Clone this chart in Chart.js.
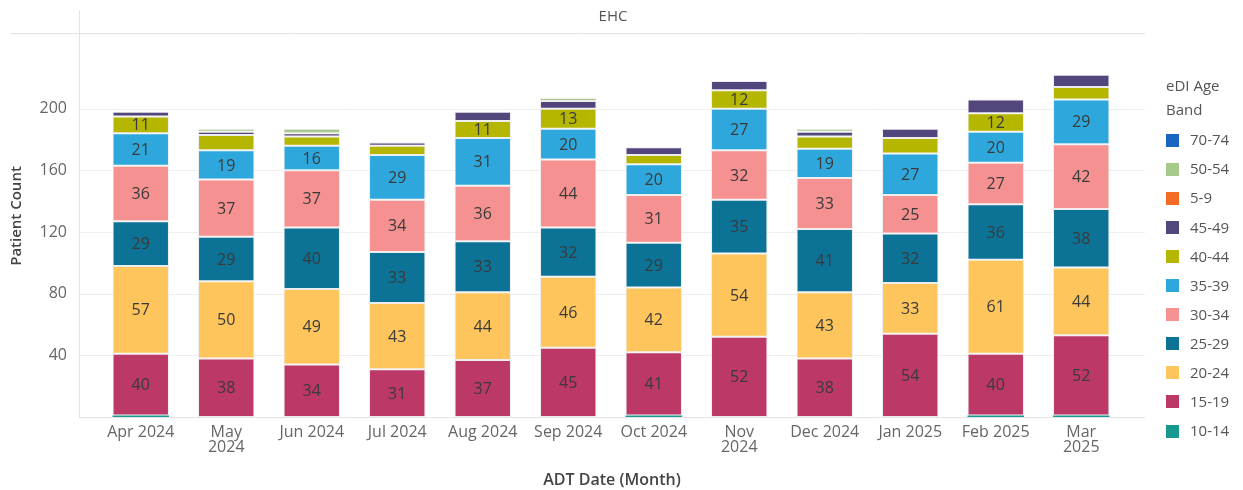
<!DOCTYPE html>
<html>
<head>
<meta charset="utf-8">
<script src="https://cdn.jsdelivr.net/npm/chart.js@4"></script>
<style>
  html, body { margin: 0; padding: 0; background: #fff; }
</style>
</head>
<body>
<canvas id="myChart" width="1243" height="490"></canvas>
<script>
// months on the x axis (arrays = wrapped labels)
let months = ["Apr 2024", "May 2024", "Jun 2024", "Jul 2024", "Aug 2024", "Sep 2024",
  "Oct 2024", "Nov 2024", "Dec 2024", "Jan 2025", "Feb 2025", "Mar 2025"];
let monthLabels = ["Apr 2024", ["May", "2024"], "Jun 2024", "Jul 2024", "Aug 2024", "Sep 2024",
  "Oct 2024", ["Nov", "2024"], "Dec 2024", "Jan 2025", "Feb 2025", ["Mar", "2025"]];
let yTicks = [40, 80, 120, 160, 200];

// age bands, bottom of the stack first
let bands = ["10-14", "15-19", "20-24", "25-29", "30-34", "35-39", "40-44", "45-49", "5-9", "50-54", "70-74"];
let band10_14 = [1, 0, 0, 0, 0, 0, 1, 0, 0, 0, 1, 1];
let band15_19 = [40, 38, 34, 31, 37, 45, 41, 52, 38, 54, 40, 52];
let band20_24 = [57, 50, 49, 43, 44, 46, 42, 54, 43, 33, 61, 44];
let band25_29 = [29, 29, 40, 33, 33, 32, 29, 35, 41, 32, 36, 38];
let band30_34 = [36, 37, 37, 34, 36, 44, 31, 32, 33, 25, 27, 42];
let band35_39 = [21, 19, 16, 29, 31, 20, 20, 27, 19, 27, 20, 29];
let band40_44 = [11, 10, 6, 6, 11, 13, 6, 12, 8, 10, 12, 8];
let band45_49 = [3, 2, 2, 2, 6, 5, 5, 6, 3, 6, 9, 8];
let band5_9 = [0, 0, 0, 0, 0, 0, 0, 0, 0, 0, 0, 0];
let band50_54 = [0, 2, 3, 0, 0, 2, 0, 0, 2, 0, 0, 0];
let band70_74 = [0, 0, 0, 0, 0, 0, 0, 0, 0, 0, 0, 0];

let values = [band10_14, band15_19, band20_24, band25_29, band30_34, band35_39,
  band40_44, band45_49, band5_9, band50_54, band70_74];
let colors = ["#17998f", "#bc3867", "#fdc55c", "#0c7396", "#f59191", "#2ea8dc",
  "#b5b600", "#53467c", "#f46b25", "#a7c98b", "#1966c1"];

const FONT = "'Open Sans', 'Noto Sans', sans-serif";
const MIN_LABEL = 11; // smaller segments carry no number

let datasets = bands.map((b, i) => ({
  label: b,
  data: values[i],
  backgroundColor: colors[i],
  borderColor: "rgba(235,235,235,0.9)",
  borderWidth: (c) => (c.raw >= 2 ? 1 : 0),
  borderSkipped: false,
  barPercentage: 0.66,
  categoryPercentage: 1
}));

const frame = {
  id: "frame",
  beforeDatasetsDraw(chart) {
    const c = chart.ctx;
    const y = chart.scales.y;
    c.save();
    c.lineWidth = 1;
    c.strokeStyle = "#eeeeee";
    yTicks.forEach((t) => {
      let py = Math.round(y.getPixelForValue(t)) + 0.5;
      c.beginPath(); c.moveTo(79, py); c.lineTo(1145, py); c.stroke();
    });
    c.strokeStyle = "#e3e3e3";
    c.beginPath(); c.moveTo(10, 33.5); c.lineTo(1145, 33.5); c.stroke();
    c.beginPath(); c.moveTo(79.5, 10); c.lineTo(79.5, 417); c.stroke();
    let zero = Math.round(y.getPixelForValue(0)) + 0.5;
    c.beginPath(); c.moveTo(79, zero); c.lineTo(1145, zero); c.stroke();
    c.restore();
  },
  afterDatasetsDraw(chart) {
    const c = chart.ctx;
    c.save();
    c.font = "16px " + FONT;
    c.fillStyle = "#3a3a3a";
    c.textAlign = "center";
    c.textBaseline = "middle";
    chart.data.datasets.forEach((ds, di) => {
      chart.getDatasetMeta(di).data.forEach((bar, i) => {
        let v = ds.data[i];
        if (v >= MIN_LABEL) {
          c.fillText(String(v), bar.x, (bar.y + bar.base) / 2 + 1);
        }
      });
    });
    c.restore();
  },
  afterDraw(chart) {
    const c = chart.ctx;
    const x = chart.scales.x;
    const y = chart.scales.y;
    c.save();
    // facet header
    c.font = "15px " + FONT;
    c.fillStyle = "#555";
    c.textAlign = "center";
    c.textBaseline = "middle";
    c.fillText("EHC", 613, 17);

    // y ticks
    c.font = "16px " + FONT;
    c.fillStyle = "#666";
    c.textAlign = "right";
    yTicks.forEach((t) => c.fillText(String(t), 67, y.getPixelForValue(t)));

    // x ticks (wrapped ones hang below the first line)
    c.textAlign = "center";
    monthLabels.forEach((lab, i) => {
      let lines = Array.isArray(lab) ? lab : [lab];
      let px = x.getPixelForValue(i);
      lines.forEach((ln, k) => c.fillText(ln, px, 432.5 + k * 14.5));
    });

    // axis titles
    c.font = "600 16px " + FONT;
    c.fillStyle = "#444";
    c.fillText("ADT Date (Month)", 612, 480);
    c.save();
    c.font = "600 15px " + FONT;
    c.translate(17, 216);
    c.rotate(-Math.PI / 2);
    c.fillText("Patient Count", 0, 0);
    c.restore();

    // legend, top of the stack first
    c.font = "15px " + FONT;
    c.fillStyle = "#555";
    c.textAlign = "left";
    c.fillText("eDI Age", 1166, 87);
    c.fillText("Band", 1166, 111);
    let order = chart.data.datasets.map((d, i) => i).reverse();
    order.forEach((di, k) => {
      let cy = 140 + k * 29.1;
      c.fillStyle = chart.data.datasets[di].backgroundColor;
      c.fillRect(1166, Math.round(cy - 6.5), 13, 13);
      c.fillStyle = "#555";
      c.fillText(chart.data.datasets[di].label, 1190, cy + 1);
    });
    c.restore();
  }
};

const ctx = document.getElementById("myChart").getContext("2d");
new Chart(ctx, {
  type: "bar",
  data: { labels: months, datasets: datasets },
  options: {
    responsive: false,
    animation: false,
    layout: { padding: { left: 98, right: 119, top: 47, bottom: 73 } },
    scales: {
      x: { display: false, stacked: true, offset: true },
      y: { display: false, stacked: true, min: 0, max: 240 }
    },
    plugins: {
      legend: { display: false },
      tooltip: { enabled: false }
    }
  },
  plugins: [frame]
});
</script>
</body>
</html>
